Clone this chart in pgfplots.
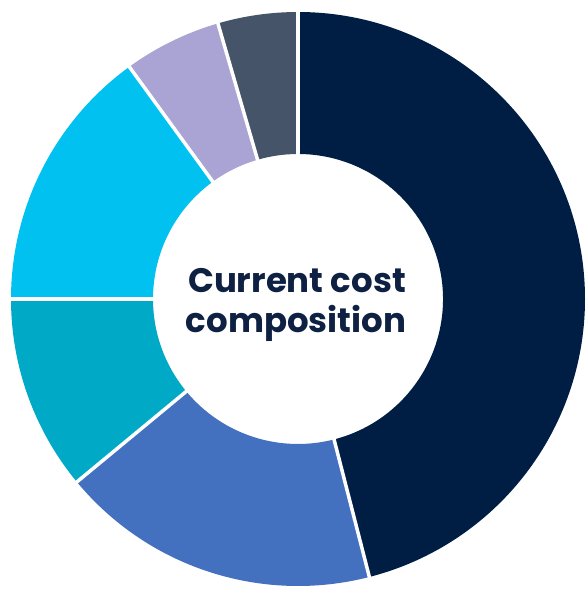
\documentclass[border=0pt]{standalone}
\usepackage{pgfplots}
\pgfplotsset{compat=1.18}
\usepackage{pgfplotstable}
\usepackage{fontspec}
\setmainfont{Poppins}
\definecolor{cNavy}{HTML}{001E44}
\definecolor{cBlue}{HTML}{4470C0}
\definecolor{cTeal}{HTML}{00AAC6}
\definecolor{cCyan}{HTML}{00C1F0}
\definecolor{cLav}{HTML}{A9A4D4}
\definecolor{cSlate}{HTML}{455468}
\definecolor{cText}{HTML}{0F2142}
\pgfplotstableread{
value col
46 cNavy
18 cBlue
11 cTeal
15 cCyan
5.5 cLav
4.5 cSlate
}\costdata
\begin{document}
\begin{tikzpicture}
\begin{axis}[
  scale only axis, width=587pt, height=590pt,
  xmin=0, xmax=587, ymin=0, ymax=590,
  hide axis, clip=false,
]
\pgfplotstablegetrowsof{\costdata}
\pgfmathtruncatemacro{\nrows}{\pgfplotsretval-1}
\def\cum{0}
\pgfplotsforeachungrouped \i in {0,...,\nrows}{%
  \pgfplotstablegetelem{\i}{value}\of\costdata \let\segval\pgfplotsretval
  \pgfplotstablegetelem{\i}{col}\of\costdata \let\segcol\pgfplotsretval
  \pgfmathsetmacro{\angA}{90-3.6*\cum}%
  \pgfmathsetmacro{\cum}{\cum+\segval}%
  \pgfmathsetmacro{\angB}{90-3.6*\cum}%
  \pgfmathsetmacro{\angBi}{\angB+180}%
  \edef\temp{\noexpand\fill[\segcol] (axis cs:298,291) ++(\angA:287pt) arc[start angle=\angA, end angle=\angB, radius=287pt] -- ++(\angBi:142pt) arc[start angle=\angB, end angle=\angA, radius=145pt] -- cycle;}%
  \temp
}
\def\cum{0}
\pgfplotsforeachungrouped \i in {0,...,\nrows}{%
  \pgfplotstablegetelem{\i}{value}\of\costdata \let\segval\pgfplotsretval
  \pgfmathsetmacro{\cum}{\cum+\segval}%
  \pgfmathsetmacro{\angB}{90-3.6*\cum}%
  \edef\temp{\noexpand\draw[white, line width=3.5pt] (axis cs:298,291) ++(\angB:140pt) -- ++(\angB:152pt);}%
  \temp
}
\node[anchor=base, text=cText, font=\bfseries\fontsize{34}{40}\selectfont] at (axis cs:297,297) {Current cost};
\node[anchor=base, text=cText, font=\bfseries\fontsize{34}{40}\selectfont] at (axis cs:296,257) {composition};
\coordinate (bbA) at (axis cs:0,0);
\coordinate (bbB) at (axis cs:587,590);
\end{axis}
\pgfresetboundingbox
\useasboundingbox (bbA) rectangle (bbB);
\end{tikzpicture}
\end{document}
